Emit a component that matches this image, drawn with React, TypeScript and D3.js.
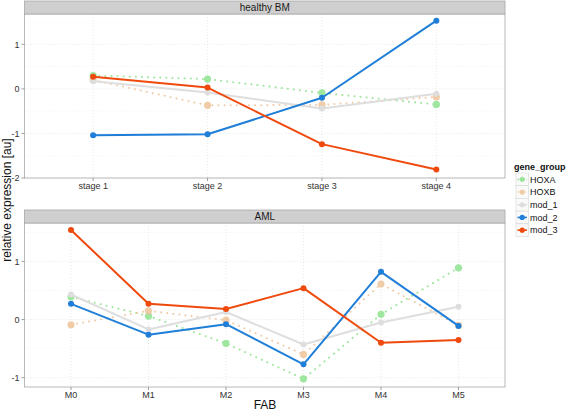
import * as d3 from 'd3';

const WIDTH = 567;
const HEIGHT = 410;
const FONT = '"Liberation Sans", Arial, sans-serif';

const groups = ['HOXA', 'HOXB', 'mod_1', 'mod_2', 'mod_3'];
const colors = ['#8fe28f', '#efc49a', '#dedede', '#1f7fd8', '#ef4a0e'];
const dotted = [true, true, false, false, false];

const stages = ['stage 1', 'stage 2', 'stage 3', 'stage 4'];
const healthyHOXA = [0.3, 0.22, -0.09, -0.35];
const healthyHOXB = [0.2, -0.37, -0.36, -0.18];
const healthyMod1 = [0.17, -0.08, -0.44, -0.11];
const healthyMod2 = [-1.04, -1.02, -0.2, 1.53];
const healthyMod3 = [0.27, 0.03, -1.24, -1.81];

const fabs = ['M0', 'M1', 'M2', 'M3', 'M4', 'M5'];
const amlHOXA = [0.39, 0.06, -0.41, -1.02, 0.09, 0.89];
const amlHOXB = [-0.09, 0.15, -0.01, -0.6, 0.61, -0.1];
const amlMod1 = [0.43, -0.17, 0.13, -0.43, -0.05, 0.22];
const amlMod2 = [0.27, -0.26, -0.08, -0.77, 0.82, -0.11];
const amlMod3 = [1.54, 0.27, 0.18, 0.54, -0.4, -0.35];

const yTicks = [-2, -1, 0, 1];
const yTicksAml = [-1, 0, 1];

const PANEL_X = [24.5, 505];

type PanelProps = {
  title: string;
  cats: string[];
  series: number[][];
  domain: [number, number];
  ticks: number[];
  stripTop: number;
  top: number;
  bottom: number;
};

function Panel({ title, cats, series, domain, ticks, stripTop, top, bottom }: PanelProps) {
  const x = d3.scalePoint<string>().domain(cats).range(PANEL_X).padding(0.6);
  const y = d3.scaleLinear().domain(domain).range([bottom, top]);
  const minor = d3.range(Math.ceil(domain[0] * 2) / 2, domain[1], 0.5).filter((v) => !ticks.includes(v));
  const line = d3
    .line<number>()
    .x((_, i) => x(cats[i]) ?? 0)
    .y((d) => y(d));
  const left = PANEL_X[0];
  const right = PANEL_X[1];

  return (
    <g>
      <rect x={left} y={top} width={right - left} height={bottom - top} fill="#fff" />
      {minor.map((v) => (
        <line key={'m' + v} x1={left} x2={right} y1={y(v)} y2={y(v)} stroke="#ececec" strokeWidth={0.6} strokeDasharray="1,2" />
      ))}
      {ticks.map((v) => (
        <line key={'t' + v} x1={left} x2={right} y1={y(v)} y2={y(v)} stroke="#e2e2e2" strokeWidth={0.8} strokeDasharray="1,2" />
      ))}
      {cats.map((c) => (
        <line key={c} x1={x(c)} x2={x(c)} y1={top} y2={bottom} stroke="#e2e2e2" strokeWidth={0.8} strokeDasharray="1,2" />
      ))}

      {series.map((vals, gi) => (
        <g key={groups[gi]} opacity={dotted[gi] ? 0.85 : 1}>
          <path
            d={line(vals) ?? ''}
            fill="none"
            stroke={colors[gi]}
            strokeWidth={2}
            strokeDasharray={dotted[gi] ? '0.1,6' : undefined}
            strokeLinecap="round"
            strokeLinejoin="round"
          />
          {vals.map((v, i) => (
            <circle key={i} cx={x(cats[i])} cy={y(v)} r={dotted[gi] ? 3.6 : 3} fill={colors[gi]} />
          ))}
        </g>
      ))}

      <rect x={left} y={top} width={right - left} height={bottom - top} fill="none" stroke="#a8a8a8" strokeWidth={0.8} />
      <rect x={left} y={stripTop} width={right - left} height={top - stripTop} fill="#cfcfcf" stroke="#a8a8a8" strokeWidth={0.8} />
      <text x={(left + right) / 2} y={top - 3.5} textAnchor="middle" fontSize={10} fill="#1a1a1a">
        {title}
      </text>

      {ticks.map((v) => (
        <g key={'yl' + v}>
          <line x1={left - 3} x2={left} y1={y(v)} y2={y(v)} stroke="#888" strokeWidth={0.8} />
          <text x={left - 5} y={y(v) + 3.2} textAnchor="end" fontSize={9} fill="#333">
            {v}
          </text>
        </g>
      ))}
      {cats.map((c) => (
        <g key={'xl' + c}>
          <line x1={x(c)} x2={x(c)} y1={bottom} y2={bottom + 3} stroke="#888" strokeWidth={0.8} />
          <text x={x(c)} y={bottom + 11} textAnchor="middle" fontSize={9} fill="#333">
            {c}
          </text>
        </g>
      ))}
    </g>
  );
}

export default function App() {
  const legendY = d3.scaleBand<string>().domain(groups).range([173, 236.5]);
  return (
    <svg
      width={WIDTH}
      height={HEIGHT}
      style={{ position: 'absolute', left: 0, top: 0, fontFamily: FONT, background: '#fff' }}
    >
      <Panel
        title="healthy BM"
        cats={stages}
        series={[healthyHOXA, healthyHOXB, healthyMod1, healthyMod2, healthyMod3]}
        domain={[-2.0, 1.68]}
        ticks={yTicks}
        stripTop={1}
        top={14}
        bottom={178}
      />
      <Panel
        title="AML"
        cats={fabs}
        series={[amlHOXA, amlHOXB, amlMod1, amlMod2, amlMod3]}
        domain={[-1.16, 1.66]}
        ticks={yTicksAml}
        stripTop={210}
        top={223}
        bottom={387}
      />

      <text transform="translate(11,200) rotate(-90)" textAnchor="middle" fontSize={12} fill="#111">
        relative expression [au]
      </text>
      <text x={265} y={408.5} textAnchor="middle" fontSize={12} fill="#111">
        FAB
      </text>

      <text x={514} y={170} fontSize={9} fontWeight="bold" fill="#111">
        gene_group
      </text>
      {groups.map((gname, gi) => {
        const yy = legendY(gname) ?? 0;
        const h = legendY.bandwidth();
        return (
          <g key={gname}>
            <rect x={516} y={yy} width={12.5} height={h} fill="#fafafa" stroke="#d6d6d6" strokeWidth={0.6} />
            <line
              x1={517.5}
              x2={527}
              y1={yy + h / 2}
              y2={yy + h / 2}
              stroke={colors[gi]}
              strokeWidth={1.6}
              strokeDasharray={dotted[gi] ? '1.5,1.5' : undefined}
              opacity={dotted[gi] ? 0.85 : 1}
            />
            <circle cx={522.2} cy={yy + h / 2} r={2.6} fill={colors[gi]} opacity={dotted[gi] ? 0.85 : 1} />
            <text x={530} y={yy + h / 2 + 3.2} fontSize={9} fill="#111">
              {gname}
            </text>
          </g>
        );
      })}
    </svg>
  );
}
